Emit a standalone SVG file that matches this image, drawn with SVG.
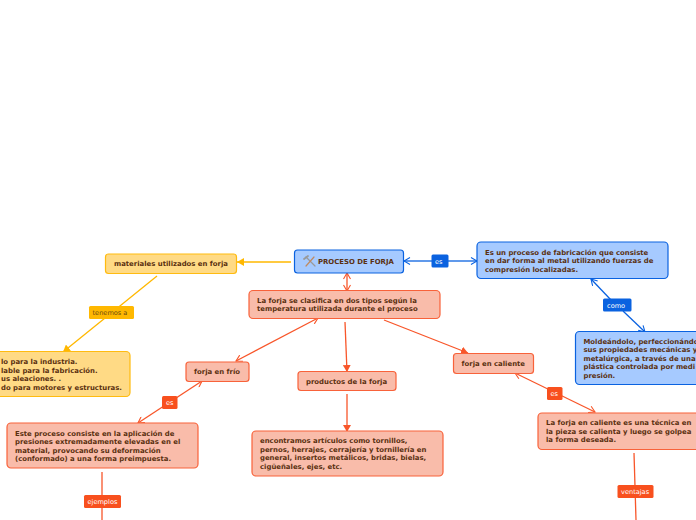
<svg xmlns="http://www.w3.org/2000/svg" width="696" height="520" viewBox="0 0 696 520">
<style>
text{font-family:"DejaVu Sans",Verdana,sans-serif;font-size:6.9px;font-weight:700;fill:#5a3010}
.blue{fill:#a6caff;stroke:#0a62e0;stroke-width:1.2}
.red{fill:#f9bcaa;stroke:#f8623a;stroke-width:1.2}
.yel{fill:#ffda85;stroke:#ffbb10;stroke-width:1.2}
.lab text{font-weight:400;font-size:6.6px;fill:#fff}
.c{fill:none;stroke-width:1.3}
.cr{stroke:#f8562a}.cb{stroke:#0a62e0}.cy{stroke:#ffb800}
</style>
<defs>
<marker id="ar" markerWidth="8" markerHeight="8" refX="7" refY="4" orient="auto-start-reverse" markerUnits="userSpaceOnUse"><path d="M1 .5L7 4L1 7.5" fill="none" stroke="#f8562a" stroke-width="1.1"/></marker>
<marker id="af" markerWidth="8" markerHeight="8" refX="7" refY="4" orient="auto" markerUnits="userSpaceOnUse"><path d="M0 0L7 4L0 8Z" fill="#f8562a"/></marker>
<marker id="ab" markerWidth="8" markerHeight="8" refX="7" refY="4" orient="auto-start-reverse" markerUnits="userSpaceOnUse"><path d="M1 .5L7 4L1 7.5" fill="none" stroke="#0a62e0" stroke-width="1.1"/></marker>
<marker id="ay" markerWidth="8" markerHeight="8" refX="7" refY="4" orient="auto" markerUnits="userSpaceOnUse"><path d="M0 0L7 4L0 8Z" fill="#ffb800"/></marker>
</defs>
<g id="connectors">
<path class="c cy" d="M291 262H237" marker-end="url(#ay)"/>
<path class="c cy" d="M157 276L63 352" marker-end="url(#ay)"/>
<path class="c cb" d="M432 261H404" marker-end="url(#ab)"/>
<path class="c cb" d="M448 261H477" marker-end="url(#ab)"/>
<path class="c cb" d="M611 300L591 279" marker-end="url(#ab)"/>
<path class="c cb" d="M623 311L645 332" marker-end="url(#ab)"/>
<path class="c cr" d="M347 273V291" marker-start="url(#ar)" marker-end="url(#ar)"/>
<path class="c cr" d="M318 318L236 361" marker-start="url(#ar)" marker-end="url(#ar)"/>
<path class="c cr" d="M345 322L347 372" marker-end="url(#af)"/>
<path class="c cr" d="M384 320L468 353" marker-end="url(#af)"/>
<path class="c cr" d="M347 394V432" marker-end="url(#af)"/>
<path class="c cr" d="M202 381L138 423" marker-start="url(#ar)" marker-end="url(#ar)"/>
<path class="c cr" d="M102 472V520"/>
<path class="c cr" d="M515 373L595 412" marker-start="url(#ar)" marker-end="url(#ar)"/>
<path class="c cr" d="M634 453L636 520"/>
</g>
<g id="n-main"><rect class="blue" x="294.500" y="250" width="109" height="23" rx="3"/>
<g fill="none" stroke-linecap="round"><path d="M306 257L315 266" stroke="#9a9a9a" stroke-width="1.2"/><path d="M314 257L306 266" stroke="#c08a60" stroke-width="1.2"/><path d="M304 259L308 256" stroke="#999" stroke-width="1.8"/></g>
<text x="318" y="264">PROCESO DE FORJA</text></g>
<g id="n-materiales"><rect class="yel" x="105.500" y="254" width="131" height="19.500" rx="3"/><text x="114" y="266">materiales utilizados en forja</text></g>
<g id="n-materiales-lista"><rect class="yel" x="-50" y="351.500" width="180" height="45" rx="4"/>
<text x="1" y="364">lo para la industria.</text><text x="1" y="373">lable para la fabricación.</text><text x="1" y="381">us aleaciones. .</text><text x="1" y="390">do para motores y estructuras.</text></g>
<g id="n-definicion"><rect class="blue" x="477" y="242" width="191" height="36.500" rx="4"/>
<text x="485" y="255">Es un proceso de fabricación que consiste</text><text x="485" y="263">en dar forma al metal utilizando fuerzas de</text><text x="485" y="272">compresión localizadas.</text></g>
<g id="n-moldeando"><rect class="blue" x="575.500" y="331.500" width="180" height="53" rx="4"/>
<text x="583.500" y="344">Moldeándolo, perfeccionándo</text><text x="583.500" y="352">sus propiedades mecánicas y</text><text x="583.500" y="361">metalúrgica, a través de una</text><text x="583.500" y="369">plástica controlada por medi</text><text x="583.500" y="378">presión.</text></g>
<g id="n-clasifica"><rect class="red" x="249" y="290.500" width="191" height="28" rx="4"/>
<text x="257" y="303">La forja se clasifica en dos tipos según la</text><text x="257" y="311">temperatura utilizada durante el proceso</text></g>
<g id="n-frio"><rect class="red" x="186" y="362" width="63" height="19.500" rx="3"/><text x="194" y="374">forja en frío</text></g>
<g id="n-productos"><rect class="red" x="298" y="371.500" width="98" height="19" rx="3"/><text x="306" y="384">productos de la forja</text></g>
<g id="n-caliente"><rect class="red" x="453.500" y="353.500" width="80" height="20" rx="3"/><text x="461.500" y="366">forja en caliente</text></g>
<g id="n-frio-def"><rect class="red" x="7" y="423" width="191" height="45" rx="4"/>
<text x="15" y="436">Este proceso consiste en la aplicación de</text><text x="15" y="444">presiones extremadamente elevadas en el</text><text x="15" y="453">material, provocando su deformación</text><text x="15" y="461">(conformado) a una forma preimpuesta.</text></g>
<g id="n-articulos"><rect class="red" x="252" y="431" width="191" height="45" rx="4"/>
<text x="260" y="443">encontramos artículos como tornillos,</text><text x="260" y="452">pernos, herrajes, cerrajería y tornillería en</text><text x="260" y="460">general, insertos metálicos, bridas, bielas,</text><text x="260" y="469">cigüeñales, ejes, etc.</text></g>
<g id="n-caliente-def"><rect class="red" x="538" y="413" width="180" height="36.500" rx="4"/>
<text x="546" y="425">La forja en caliente es una técnica en</text><text x="546" y="434">la pieza se calienta y luego se golpea</text><text x="546" y="442">la forma deseada.</text></g>
<g class="lab">
<g id="l-es1"><rect x="431.500" y="254.500" width="17" height="13" rx="1.500" fill="#0a62e0"/><text x="435" y="263.500">es</text></g>
<g id="l-como"><rect x="603" y="298.500" width="28.500" height="13" rx="1.500" fill="#0a62e0"/><text x="607" y="307.500">como</text></g>
<g id="l-tenemos"><rect x="89" y="306" width="45" height="13" rx="1.500" fill="#ffb800"/><text x="92.500" y="315" style="fill:#6b4a10">tenemos a</text></g>
<g id="l-es2"><rect x="162" y="396" width="15.500" height="13" rx="1.500" fill="#f8501e"/><text x="166" y="405">es</text></g>
<g id="l-ejemplos"><rect x="84" y="495" width="37" height="13" rx="1.500" fill="#f8501e"/><text x="87.500" y="504">ejemplos</text></g>
<g id="l-es3"><rect x="547" y="387" width="15.500" height="13" rx="1.500" fill="#f8501e"/><text x="550.500" y="396">es</text></g>
<g id="l-ventajas"><rect x="617.500" y="485" width="36" height="13" rx="1.500" fill="#f8501e"/><text x="621" y="494">ventajas</text></g>
</g>
</svg>
